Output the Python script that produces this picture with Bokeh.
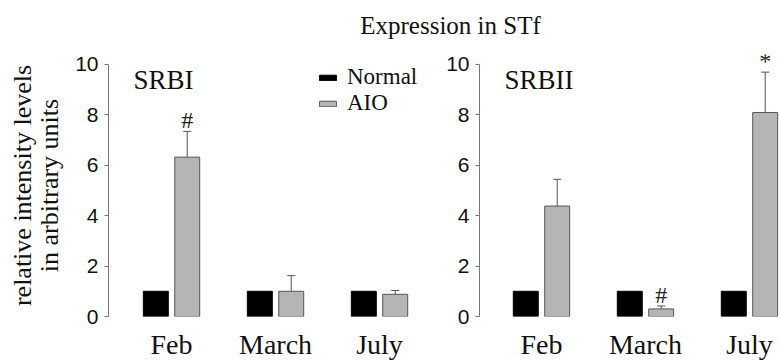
from bokeh.plotting import figure
from bokeh.layouts import column, row
from bokeh.models import (ColumnDataSource, FixedTicker, Whisker, TeeHead, Label,
                          Legend, LegendItem, Range1d)
from bokeh.core.properties import value
from bokeh.embed import file_html
from bokeh.resources import INLINE

# ---- data ----
months = ["Feb", "March", "July"]
srbi_normal = [1.0, 1.0, 1.0]
srbi_aio = [6.32, 1.0, 0.88]
srbi_aio_err = [1.02, 0.62, 0.15]
srbi_marks = ["#", "", ""]

srbii_normal = [1.0, 1.0, 1.0]
srbii_aio = [4.38, 0.30, 8.09]
srbii_aio_err = [1.06, 0.12, 1.60]
srbii_marks = ["", "#", "*"]

title_text = "Expression in STf"
y_label = "relative intensity levels\nin arbitrary units"
y_ticks = [0, 2, 4, 6, 8, 10]

SERIF = "Liberation Serif"
SANS = "Liberation Sans"
GRAY = "#b5b5b5"
EDGE = "#555555"

OFF = 0.151
BW = 0.24


def panel(name, normal, aio, err, marks, width, border_left, x_start, x_end,
          show_label, legend=False):
    p = figure(width=width, height=322, output_backend="svg", toolbar_location=None,
               x_range=Range1d(x_start, x_end), y_range=Range1d(0, 10.39),
               min_border_left=border_left, min_border_right=0,
               min_border_top=14, min_border_bottom=40)
    p.outline_line_color = None
    p.grid.visible = False
    p.background_fill_color = "white"
    p.border_fill_color = "white"

    idx = list(range(len(months)))
    src = ColumnDataSource(dict(
        xn=[i - OFF for i in idx], xa=[i + OFF for i in idx],
        normal=normal, aio=aio,
        upper=[a + e for a, e in zip(aio, err)],
        marks=marks))

    rn = p.vbar(x="xn", top="normal", bottom=0, width=BW, source=src,
                fill_color="black", line_color="black", line_width=1)
    ra = p.vbar(x="xa", top="aio", bottom=0, width=BW, source=src,
                fill_color=GRAY, line_color=EDGE, line_width=1)

    w = Whisker(source=src, base="xa", lower="aio", upper="upper",
                line_color=EDGE, line_width=1,
                upper_head=TeeHead(size=8, line_color=EDGE, line_width=1),
                lower_head=None)
    p.add_layout(w)

    p.text(x="xa", y="upper", text="marks", source=src, text_align="center",
           text_baseline="bottom", text_font=value(SERIF), y_offset=2,
           text_font_size="24px", text_color="#222222")

    p.add_layout(Label(x=x_start + 25 / 104.0, y=9.38, text=name,
                       text_font=SERIF, text_font_size="27px",
                       text_baseline="middle", text_color="#111111"))

    # y axis
    ya = p.yaxis[0]
    ya.ticker = FixedTicker(ticks=y_ticks)
    ya.bounds = (0, 10)
    ya.axis_line_color = "#777777"
    ya.major_tick_line_color = "#777777"
    ya.major_tick_out = 4
    ya.major_tick_in = 0
    ya.minor_tick_line_color = None
    ya.major_label_text_font = SANS
    ya.major_label_text_font_size = "21px"
    ya.major_label_text_color = "#111111"
    ya.major_label_standoff = 6
    if show_label:
        ya.axis_label = y_label
        ya.axis_label_text_font = SERIF
        ya.axis_label_text_font_size = "26px"
        ya.axis_label_text_font_style = "normal"
        ya.axis_label_text_color = "#111111"
        ya.axis_label_text_line_height = 0.95
        ya.axis_label_standoff = 8

    xa = p.xaxis[0]
    xa.ticker = FixedTicker(ticks=idx)
    xa.major_label_overrides = {i: m for i, m in enumerate(months)}
    xa.axis_line_color = None
    xa.major_tick_line_color = None
    xa.minor_tick_line_color = None
    xa.major_label_text_font = SERIF
    xa.major_label_text_font_size = "28px"
    xa.major_label_text_color = "#111111"
    xa.major_label_standoff = 6

    if legend:
        lg = Legend(items=[LegendItem(label="Normal", renderers=[rn]),
                           LegendItem(label="AIO", renderers=[ra])],
                    location=(209, 200), orientation="vertical",
                    glyph_width=21, glyph_height=7, label_standoff=9,
                    label_height=19, spacing=0, padding=0, margin=0,
                    border_line_color=None, background_fill_alpha=0,
                    label_text_font=SERIF, label_text_font_size="23px",
                    label_text_color="#111111")
        p.add_layout(lg, "center")
    return p


left = panel("SRBI", srbi_normal, srbi_aio, srbi_aio_err, srbi_marks,
             430, 108, -0.606, -0.606 + 322 / 104.0, True, legend=True)
right = panel("SRBII", srbii_normal, srbii_aio, srbii_aio_err, srbii_marks,
              350, 49, -0.596, -0.596 + 301 / 104.0, False)

top = figure(width=780, height=40, output_backend="svg", toolbar_location=None,
             x_range=Range1d(0, 780), y_range=Range1d(0, 40),
             min_border=0)
top.axis.visible = False
top.grid.visible = False
top.outline_line_color = None
top.add_layout(Label(x=450, y=15, text=title_text, text_font=SERIF,
                     text_font_size="25px", text_align="center",
                     text_baseline="middle", text_color="#111111"))

layout = column(top, row(left, right, spacing=0), spacing=0)
open("out.html", "w").write(file_html(layout, INLINE))
